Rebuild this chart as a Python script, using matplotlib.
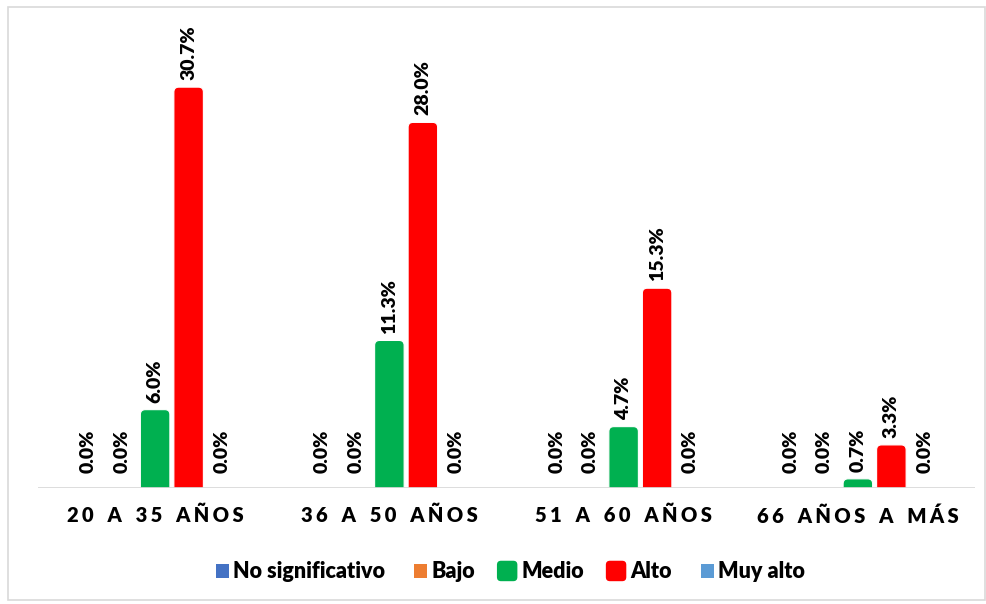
import numpy as np
import matplotlib
matplotlib.use("Agg")
import matplotlib.pyplot as plt
from matplotlib.patches import FancyBboxPatch, Rectangle
from matplotlib.legend_handler import HandlerPatch
from matplotlib.transforms import offset_copy

plt.rcParams['font.family'] = ['Lato', 'DejaVu Sans']
plt.rcParams['font.weight'] = 'heavy'

categories = ["20 A 35 AÑOS", "36 A 50 AÑOS", "51 A 60 AÑOS", "66 AÑOS A MÁS"]
series_names = ["No significativo", "Bajo", "Medio", "Alto", "Muy alto"]
no_significativo = [0.0, 0.0, 0.0, 0.0]
bajo = [0.0, 0.0, 0.0, 0.0]
medio = [6.0, 11.3, 4.7, 0.7]
alto = [30.7, 28.0, 15.3, 3.3]
muy_alto = [0.0, 0.0, 0.0, 0.0]
colors = ["#4472C4", "#ED7D31", "#00B050", "#FF0000", "#5B9BD5"]

series = [no_significativo, bajo, medio, alto, muy_alto]

fig = plt.figure(figsize=(9.86, 6.04), dpi=100)
ax = fig.add_axes([38 / 986, 116 / 604, 937 / 986, 457 / 604])

x = np.arange(len(categories))
step = 0.143
width = 0.126
radius = 0.021
aspect = 18.0

handles = []
for i, (name, vals, col) in enumerate(zip(series_names, series, colors)):
    pos = x + (i - 2) * step
    for xp, v in zip(pos, vals):
        if v > 0:
            # rounded top; bottom corners pushed below the axis and clipped
            box = FancyBboxPatch((xp - width / 2, -1.0), width, v + 1.0,
                                 boxstyle=f"round,pad=0,rounding_size={radius}",
                                 mutation_aspect=aspect, facecolor=col,
                                 edgecolor="white", linewidth=0.8, zorder=2)
            ax.add_patch(box)
        off = 5 if v > 0 else 11
        tr = offset_copy(ax.transData, fig=fig, x=0, y=off, units='points')
        ax.text(xp, v, f"{v:.1f}%", transform=tr, rotation=90,
                ha='center', va='bottom', fontsize=14, fontweight='heavy',
                color='black')
    handles.append(Rectangle((0, 0), 1, 1, facecolor=col, edgecolor='none'))

ax.set_xlim(-0.5, len(categories) - 0.5)
ax.set_ylim(0, 35)
ax.axhline(0, color="#D9D9D9", linewidth=2, zorder=3)

# letter-spaced category names: narrow space between letters, wider gap between words
spaced = ["   ".join("\u2006".join(w) for w in c.split(" ")) for c in categories]
ax.set_xticks(x)
ax.set_xticklabels(spaced, fontsize=14.5, fontweight='heavy')
ax.tick_params(axis='x', length=0, pad=13)
ax.set_yticks([])
for s in ax.spines.values():
    s.set_visible(False)


def small_key(legend, orig_handle, xdescent, ydescent, width, height, fontsize):
    s = 0.62 * fontsize
    return Rectangle((width - s, (height - s) / 2 - ydescent), s, s)


def big_key(legend, orig_handle, xdescent, ydescent, width, height, fontsize):
    s = 0.95 * fontsize
    return FancyBboxPatch((width - s, (height - s) / 2 - ydescent), s, s,
                          boxstyle=f"round,pad=0,rounding_size={0.2 * s}")


hmap = {}
for name, h in zip(series_names, handles):
    big = name in ("Medio", "Alto")
    hmap[h] = HandlerPatch(patch_func=big_key if big else small_key)

fig.legend(handles, series_names, loc='center', bbox_to_anchor=(507 / 986, 32 / 604),
           ncol=5, frameon=False, handlelength=0.95, handleheight=0.7,
           handletextpad=0.2, columnspacing=1.0, handler_map=hmap,
           prop={'weight': 'heavy', 'size': 15.5})

fig.patches.append(Rectangle((8 / 986, 4 / 604), 977 / 986, 593 / 604,
                             transform=fig.transFigure, fill=False,
                             edgecolor="#D9D9D9", linewidth=1.2))

fig.savefig("out.png", dpi=100)
